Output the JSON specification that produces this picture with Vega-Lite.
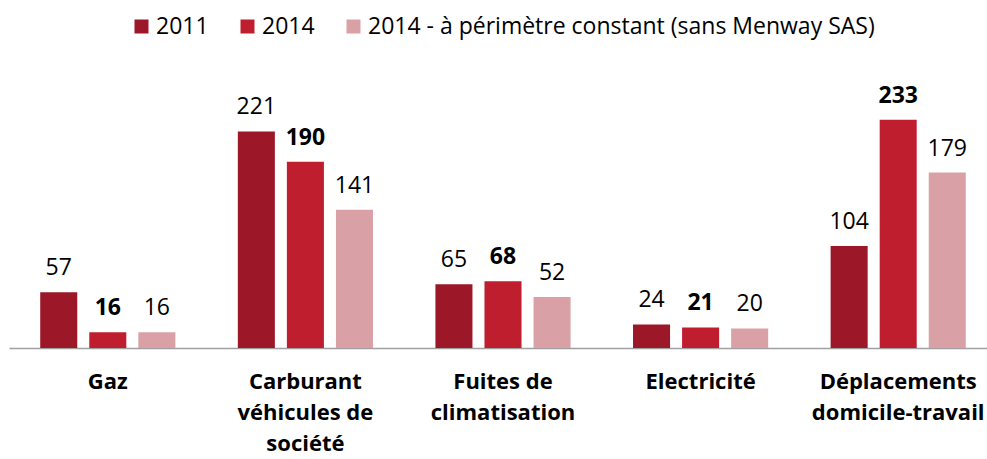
{
  "$schema": "https://vega.github.io/schema/vega-lite/v6.json",
  "width": 988,
  "height": 245,
  "autosize": {"type": "none"},
  "padding": {"left": 9, "top": 103, "right": 0, "bottom": 111},
  "config": {"view": {"stroke": null}, "font": "Open Sans"},
  "data": {
    "values": [
      {"cat": "Gaz", "serie": "2011", "value": 57},
      {"cat": "Gaz", "serie": "2014", "value": 16},
      {"cat": "Gaz", "serie": "2014 - à périmètre constant (sans Menway SAS)", "value": 16},
      {"cat": "Carburant|véhicules de|société", "serie": "2011", "value": 221},
      {"cat": "Carburant|véhicules de|société", "serie": "2014", "value": 190},
      {"cat": "Carburant|véhicules de|société", "serie": "2014 - à périmètre constant (sans Menway SAS)", "value": 141},
      {"cat": "Fuites de|climatisation", "serie": "2011", "value": 65},
      {"cat": "Fuites de|climatisation", "serie": "2014", "value": 68},
      {"cat": "Fuites de|climatisation", "serie": "2014 - à périmètre constant (sans Menway SAS)", "value": 52},
      {"cat": "Electricité", "serie": "2011", "value": 24},
      {"cat": "Electricité", "serie": "2014", "value": 21},
      {"cat": "Electricité", "serie": "2014 - à périmètre constant (sans Menway SAS)", "value": 20},
      {"cat": "Déplacements|domicile-travail", "serie": "2011", "value": 104},
      {"cat": "Déplacements|domicile-travail", "serie": "2014", "value": 233},
      {"cat": "Déplacements|domicile-travail", "serie": "2014 - à périmètre constant (sans Menway SAS)", "value": 179}
    ]
  },
  "encoding": {
    "x": {
      "field": "cat",
      "type": "nominal",
      "sort": ["Gaz", "Carburant|véhicules de|société", "Fuites de|climatisation", "Electricité", "Déplacements|domicile-travail"],
      "scale": {"paddingInner": 0.316, "paddingOuter": 0.158},
      "axis": {
        "title": null,
        "labelAngle": 0,
        "ticks": false,
        "domainColor": "#A0A0A0",
        "domainWidth": 1.5,
        "labelFontSize": 22,
        "labelFontWeight": "bold",
        "labelColor": "#000000",
        "labelPadding": 23,
        "labelLineHeight": 31,
        "labelLimit": 300,
        "labelExpr": "split(datum.label, '|')"
      }
    },
    "xOffset": {
      "field": "serie",
      "sort": ["2011", "2014", "2014 - à périmètre constant (sans Menway SAS)"],
      "scale": {"paddingInner": 0.245, "paddingOuter": 0}
    },
    "y": {"field": "value", "type": "quantitative", "scale": {"domain": [0, 250]}, "axis": null}
  },
  "layer": [
    {
      "mark": {"type": "bar"},
      "encoding": {
        "color": {
          "field": "serie",
          "type": "nominal",
          "scale": {
            "domain": ["2011", "2014", "2014 - à périmètre constant (sans Menway SAS)"],
            "range": ["#9C1727", "#BF1E2E", "#D9A1A6"]
          },
          "legend": {
            "title": null,
            "orient": "none",
            "direction": "horizontal",
            "legendX": 121,
            "legendY": -88,
            "symbolType": "square",
            "symbolSize": 196,
            "symbolStrokeWidth": 0,
            "labelFontSize": 23,
            "labelColor": "#000000",
            "labelLimit": 700,
            "labelOffset": 3,
            "columnPadding": 27,
            "gridAlign": "none"
          }
        }
      }
    },
    {
      "transform": [{"filter": "datum.serie !== '2014'"}],
      "mark": {"type": "text", "dy": -17, "baseline": "alphabetic", "fontSize": 23, "color": "#000000"},
      "encoding": {
        "text": {"field": "value", "type": "quantitative"}
      }
    },
    {
      "transform": [{"filter": "datum.serie === '2014'"}],
      "mark": {"type": "text", "dy": -17, "baseline": "alphabetic", "fontSize": 23, "fontWeight": "bold", "color": "#000000"},
      "encoding": {
        "text": {"field": "value", "type": "quantitative"}
      }
    }
  ]
}
